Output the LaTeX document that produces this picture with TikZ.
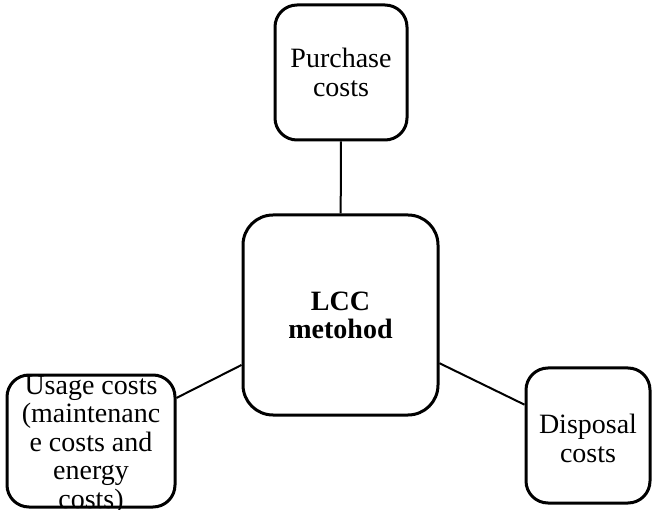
\documentclass[tikz,border=0pt]{standalone}
\usepackage{fontspec}
\setmainfont{Liberation Serif}
\begin{document}
\begin{tikzpicture}[x=1pt,y=-1pt,
  box/.style={draw=black, line width=3pt, fill=white, rounded corners=22pt, inner sep=0pt},
  txt/.style={align=center, inner sep=0pt, font=\fontsize{28}{28.5}\selectfont},
  conn/.style={draw=black, line width=2pt}]
\useasboundingbox (0,0) rectangle (653,510);
\node[box, minimum width=132pt, minimum height=135pt] (purchase) at (341,72.5) {};
\node[box, rounded corners=30pt, minimum width=195pt, minimum height=200pt] (lcc) at (340.5,315) {};
\node[box, minimum width=168pt, minimum height=132pt] (usage) at (91,441) {};
\node[box, minimum width=124pt, minimum height=135pt] (disposal) at (588,435.5) {};
\draw[conn] (purchase) -- (lcc);
\draw[conn] (lcc) -- (usage);
\draw[conn] (lcc) -- (disposal);
\node[txt] (ptext) at (purchase.center) {Purchase\\costs};
\node[txt, font=\fontsize{28}{28}\selectfont\bfseries] (ltext) at (lcc.center) {LCC\\metohod};
\node[txt] (utext) at ([yshift=-4pt]usage.center) {Usage costs\\(maintenanc\\e costs and\\energy\\costs)};
\node[txt] (dtext) at ([yshift=-3pt]disposal.center) {Disposal\\costs};
\end{tikzpicture}
\end{document}
